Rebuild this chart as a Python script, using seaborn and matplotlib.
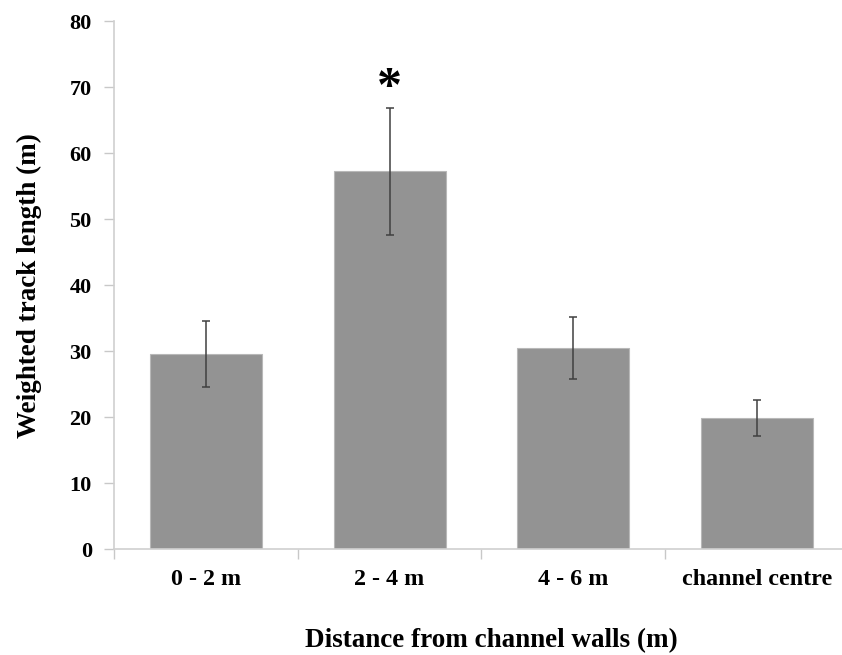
import numpy as np
import pandas as pd
import matplotlib
matplotlib.use("Agg")
import matplotlib.pyplot as plt
import seaborn as sns

# values
categories = ['0 - 2 m', '2 - 4 m', '4 - 6 m', 'channel centre']
means = [29.6, 57.3, 30.5, 19.9]
errors = [4.95, 9.65, 4.65, 2.7]
yticks = [0, 10, 20, 30, 40, 50, 60, 70, 80]

df = pd.DataFrame({'distance': categories, 'length': means, 'se': errors})

sns.set_style("white")
plt.rcParams['font.family'] = ['Liberation Serif', 'DejaVu Serif']
plt.rcParams['font.weight'] = 'bold'
plt.rcParams['text.color'] = 'black'
plt.rcParams['axes.labelcolor'] = 'black'
plt.rcParams['xtick.labelcolor'] = 'black'
plt.rcParams['ytick.labelcolor'] = 'black'

fig = plt.figure(figsize=(8.42, 6.55), dpi=100)
ax = fig.add_axes([0.1354, 0.1611, 0.8726, 0.8061])

sns.barplot(data=df, x='distance', y='length', order=categories, color='#939393',
            saturation=1, width=0.61, errorbar=None, edgecolor='#b8b8b8', linewidth=0.8, ax=ax)

ax.errorbar(np.arange(len(categories)), df['length'], yerr=df['se'], fmt='none',
            ecolor='#404040', elinewidth=1.1, capsize=2.6, capthick=1.1, zorder=5)

# significance marker above the 2 - 4 m bar
ax.text(1, 68.0, '*', ha='center', va='baseline', fontsize=36, fontweight='bold', color='black')

ax.set_xlim(-0.5, 3.5)
ax.set_ylim(0, 80)
ax.set_yticks(yticks)
ax.set_yticklabels([str(v) for v in yticks])

# ticks sit on category boundaries, labels in the middle
ax.set_xticks(np.arange(-0.5, 4.0, 1.0))
ax.set_xticklabels([''] * 5)
ax.set_xticks(np.arange(len(categories)), minor=True)
ax.set_xticklabels(categories, minor=True)

ax.tick_params(axis='x', which='major', direction='out', length=7, width=1, color='#c8c8c8', bottom=True)
ax.tick_params(axis='x', which='minor', length=0, pad=14, labelsize=17.3, labelcolor='black')
ax.tick_params(axis='y', direction='out', length=7, width=1, color='#c8c8c8', left=True, pad=9,
               labelsize=16, labelcolor='black')

sns.despine(ax=ax, top=True, right=True)
for side in ['left', 'bottom']:
    ax.spines[side].set_color('#d0d0d0')
    ax.spines[side].set_linewidth(1.2)

ax.set_xlabel('Distance from channel walls (m)', fontsize=19.5, fontweight='bold', color='black')
ax.set_ylabel('Weighted track length (m)', fontsize=19.5, fontweight='bold', color='black')
ax.xaxis.set_label_coords(0.514, -0.149)
ax.yaxis.set_label_coords(-0.098, 0.5)

fig.savefig('out.png', dpi=100)
